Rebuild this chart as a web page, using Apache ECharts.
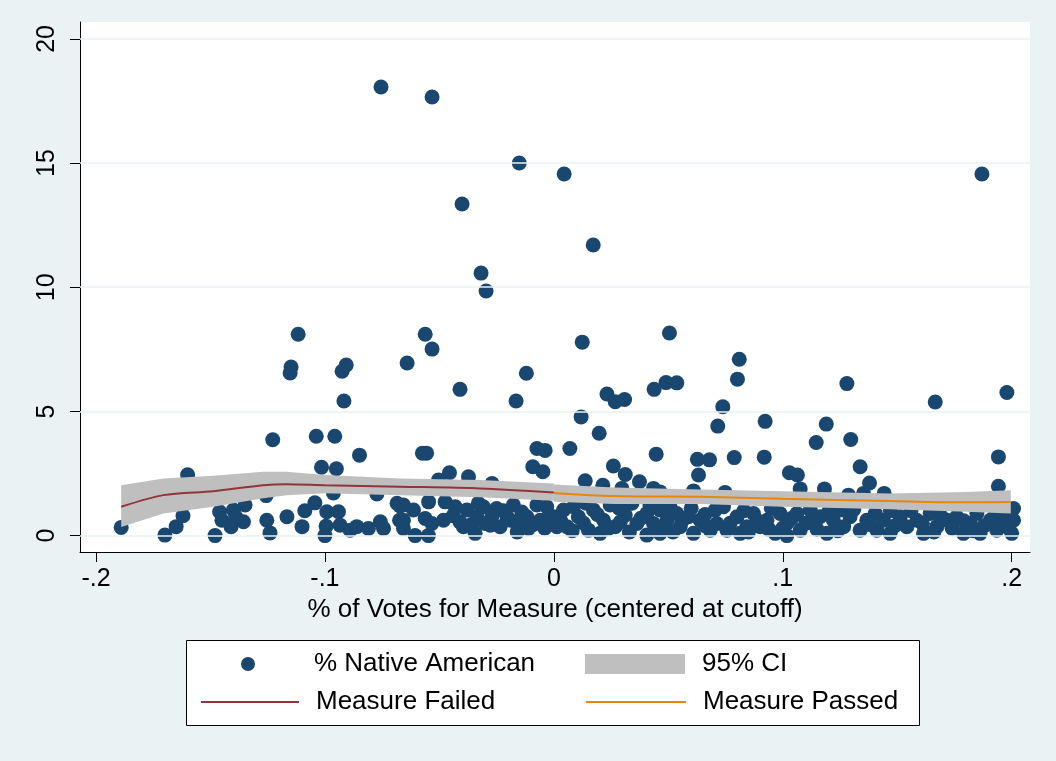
<!DOCTYPE html>
<html><head><meta charset="utf-8">
<script src="https://cdn.jsdelivr.net/npm/echarts@6/dist/echarts.min.js"></script>
<style>html,body{margin:0;padding:0;background:#EAF2F3;} #c{width:1056px;height:761px;}</style>
</head><body><div id="c"></div>
<script>
// ---- data ----
const xTickValues = [-0.2, -0.1, 0, 0.1, 0.2];
const xTickLabels = ['-.2', '-.1', '0', '.1', '.2'];
const yTickValues = [0, 5, 10, 15, 20];
const yTickLabels = ['0', '5', '10', '15', '20'];

// % Native American vs. % of votes (centered)
const nativeHigh = [
[-0.0755,18.06],[-0.0532,17.66],[-0.0151,15.0],[0.0045,14.56],[0.187,14.56],[-0.0401,13.35],[0.0172,11.70],
[-0.0318,10.57],[-0.0296,9.85],[-0.1117,8.11],[-0.0562,8.11],[0.0505,8.16],[-0.0532,7.51],[0.0124,7.79],
[0.081,7.10],[-0.0641,6.95],[-0.0907,6.87],[-0.1148,6.79],[-0.1152,6.55],[-0.0925,6.62],[-0.012,6.54],
[0.0802,6.30],[0.128,6.12],[0.049,6.16],[0.0537,6.15],[-0.041,5.89],[0.0438,5.89],[-0.0917,5.42],
[-0.0165,5.42],[0.0232,5.70],[0.0268,5.39],[0.0309,5.48],[0.1666,5.38],[0.1979,5.76],[0.0738,5.19],
[0.0119,4.78],[0.0923,4.60],[0.119,4.49],[0.0716,4.41],[0.0198,4.12],[-0.1228,3.86],[-0.1038,4.0],
[-0.0957,4.0],[-0.0849,3.24],[0.1146,3.75],[0.1297,3.87],[0.007,3.51],[-0.0074,3.51],[-0.0038,3.43],
[-0.0574,3.32],[-0.0556,3.32],[0.0447,3.28],[0.1942,3.17],[0.0919,3.16],[0.0788,3.14],[0.0627,3.07],
[0.068,3.05],[-0.1015,2.75],[-0.095,2.69],[-0.0092,2.77],[-0.0048,2.57],[0.026,2.80],[0.1338,2.77],
[-0.0456,2.53],[-0.0373,2.37],[0.1029,2.53],[0.1064,2.44],[-0.160,2.45],[0.0312,2.46],[0.0632,2.44],
[-0.0504,2.24],[0.0137,2.21],[0.0374,2.17],[0.1379,2.12],[-0.027,2.10],[0.0214,2.03],[0.1942,1.99],
[0.0297,1.90],[0.0435,1.90],[0.1076,1.88],[0.1182,1.88],[0.061,1.80],[0.0464,1.76],[0.0748,1.74],
[-0.0963,1.72],[-0.0773,1.68],[0.1353,1.70],[0.1443,1.70],[0.1287,1.63],[-0.1257,1.61],[0.0391,1.56]
];
const nativeLowFailed = [
[-0.189,0.33],[-0.1699,0.02],[-0.165,0.36],[-0.162,0.80],[-0.148,0.0],[-0.146,0.96],[-0.145,0.62],
[-0.141,0.36],[-0.140,1.03],[-0.139,0.76],[-0.1349,1.23],[-0.1356,0.56],[-0.1254,0.62],[-0.124,0.11],
[-0.1166,0.76],[-0.110,0.36],[-0.1088,1.0],[-0.1044,1.32],[-0.0992,0.96],[-0.0995,0.38],[-0.0941,0.96],
[-0.1,0.0],[-0.0934,0.42],[-0.089,0.22],[-0.0861,0.36],[-0.081,0.29],[-0.0758,0.56],[-0.0744,0.29],
[-0.0674,0.62],[-0.0685,1.30],[-0.0672,1.19],[-0.0657,1.23],[-0.0613,1.03],[-0.0547,1.36],[-0.0475,1.36],
[-0.0431,1.16],[-0.0657,0.62],[-0.0657,0.29],[-0.0606,0.0],[-0.0548,0.0],[-0.0562,0.69],[-0.0533,0.49],
[-0.0482,0.62],[-0.0395,0.36],[-0.038,1.03],[-0.0344,0.09],[-0.0336,0.76],[-0.0308,1.16],[-0.030,0.49],
[-0.025,1.09],[-0.0235,0.36],[-0.0205,0.76],[-0.0177,1.23],[-0.0155,0.36],[-0.0118,0.76],[-0.0111,0.29],
[-0.0074,1.23],[-0.006,0.62],[-0.0031,1.16],[-0.0278,0.42],[-0.019,0.62],[-0.044,0.8],[-0.041,0.55],
[-0.036,0.45],[-0.027,0.8],[-0.022,1.0],[-0.014,0.95],[-0.009,0.45],[-0.002,0.8],[-0.013,0.6],
[-0.033,1.3],[-0.016,0.15],[-0.004,0.3]
];
const nativeLowPassed = [
[0.0,0.76],[0.0013,0.36],[0.0042,1.03],[0.0057,0.36],[0.0107,0.76],[0.0151,0.22],[0.0173,1.03],
[0.0217,0.62],[0.0246,1.23],[0.0268,0.36],[0.0312,0.83],[0.0341,1.30],[0.0363,0.49],[0.0406,0.89],
[0.0406,0.02],[0.0435,0.49],[0.0464,0.09],[0.0464,1.03],[0.0494,0.62],[0.0537,0.89],[0.0552,0.36],
[0.0588,0.76],[0.061,0.09],[0.0639,0.62],[0.0683,0.22],[0.0705,1.03],[0.0712,0.49],[0.0086,1.16],
[0.0202,0.09],[0.003,0.6],[0.008,0.2],[0.013,0.5],[0.019,0.85],[0.024,0.3],[0.029,0.55],[0.033,0.15],
[0.038,0.7],[0.042,1.2],[0.048,0.35],[0.051,1.1],[0.056,0.6],[0.06,1.1],[0.066,0.85],[0.066,0.4],
[0.0141,1.3],[0.0285,1.1],[0.052,0.15],
[0.0741,1.16],[0.0756,0.22],[0.080,0.76],[0.0843,0.36],[0.0872,0.89],[0.0901,0.36],[0.0931,0.62],
[0.0967,0.09],[0.0988,0.89],[0.1018,0.49],[0.1062,0.89],[0.1076,0.22],[0.112,1.03],[0.1134,0.49],
[0.1163,0.76],[0.1193,0.09],[0.1221,0.62],[0.1251,1.03],[0.1266,0.36],[0.1294,0.76],[0.1338,0.22],
[0.1367,0.62],[0.1404,0.89],[0.1411,0.22],[0.0814,0.09],[0.1018,0.0],[0.077,0.5],[0.083,1.0],
[0.089,0.6],[0.095,1.1],[0.1,0.3],[0.104,0.7],[0.11,0.5],[0.115,0.25],[0.12,0.95],[0.124,0.2],
[0.131,1.05],[0.138,0.45],[0.085,0.15],[0.094,0.25],
[0.1440,0.62],[0.1469,0.09],[0.1513,0.76],[0.1542,0.36],[0.1586,0.62],[0.1615,0.09],[0.1644,0.89],
[0.1673,0.36],[0.1717,0.62],[0.1760,0.76],[0.1789,0.09],[0.1819,0.49],[0.1848,0.89],[0.1862,0.09],
[0.1906,0.62],[0.1935,0.22],[0.1986,0.76],[0.2000,0.09],[0.2008,0.62],[0.1979,0.36],[0.2008,1.09],
[0.149,0.4],[0.156,1.0],[0.161,0.5],[0.169,0.8],[0.174,0.3],[0.179,0.6],[0.188,0.4],[0.193,0.9],
[0.147,1.0],[0.166,0.15],[0.183,0.2],[0.196,0.5]
];

// fitted lines and 95% CI
const failX   = [-0.189, -0.1706, -0.1488, -0.127, -0.1167, -0.1, -0.0672, -0.0322, 0];
const failFit = [1.16, 1.63, 1.79, 2.03, 2.07, 2.03, 1.97, 1.90, 1.74];
const failLo  = [0.35, 0.89, 1.16, 1.50, 1.63, 1.71, 1.63, 1.54, 1.40];
const failHi  = [2.03, 2.30, 2.41, 2.57, 2.57, 2.44, 2.30, 2.24, 2.10];
const passX   = [0, 0.0262, 0.0641, 0.1, 0.1468, 0.180, 0.1996];
const passFit = [1.72, 1.59, 1.56, 1.48, 1.39, 1.34, 1.35];
const passLo  = [1.36, 1.27, 1.27, 1.16, 1.06, 0.96, 0.89];
const passHi  = [2.06, 1.94, 1.86, 1.79, 1.70, 1.76, 1.83];

// ---- chart ----
const FONT = '"Liberation Sans", Arial, Helvetica, sans-serif';
const NAVY = '#1A476F', MAROON = '#90353B', ORANGE = '#E8850C', CIGRAY = '#BFBFBF', BG = '#EAF2F3';

function bandSeries(name, xs, lo, hi) {
  return {
    name: name, type: 'custom', z: 3, silent: true,
    itemStyle: { color: CIGRAY },
    data: xs.map((x, i) => [x, lo[i], hi[i]]),
    encode: { x: 0, y: [1, 2] },
    renderItem: function (params, api) {
      if (params.dataIndex !== 0) return null;
      const top = xs.map((x, i) => api.coord([x, hi[i]]));
      const bot = xs.map((x, i) => api.coord([x, lo[i]])).reverse();
      return { type: 'polygon', shape: { points: top.concat(bot) },
               style: { fill: CIGRAY, stroke: null } };
    }
  };
}

const chart = echarts.init(document.getElementById('c'), null, { renderer: 'canvas' });
const legendBase = {
  selectedMode: false, orient: 'horizontal', padding: 0, itemGap: 0,
  textStyle: { fontFamily: FONT, fontSize: 26, color: '#000', lineHeight: 30, padding: [0, 0, 0, 12] }
};
chart.setOption({
  animation: false,
  backgroundColor: BG,
  textStyle: { fontFamily: FONT },
  grid: { left: 80, top: 22, right: 26, bottom: 209, show: true, backgroundColor: '#fff', borderWidth: 0 },
  xAxis: {
    type: 'value', min: -0.207, max: 0.208,
    name: '% of Votes for Measure (centered at cutoff)', nameLocation: 'middle', nameGap: 42,
    nameTextStyle: { fontFamily: FONT, fontSize: 26, color: '#000' },
    axisLine: { show: true, onZero: false, lineStyle: { color: '#000', width: 1 } },
    axisTick: { show: true, length: 10, customValues: xTickValues, lineStyle: { color: '#000' } },
    axisLabel: { customValues: xTickValues, fontSize: 25, color: '#000', margin: 15,
      formatter: v => { let k = 0; xTickValues.forEach((t, i) => { if (Math.abs(t - v) < Math.abs(xTickValues[k] - v)) k = i; }); return xTickLabels[k]; } },
    splitLine: { show: false }
  },
  yAxis: {
    type: 'value', min: -0.66, max: 20.68,
    axisLine: { show: true, onZero: false, lineStyle: { color: '#000', width: 1 } },
    axisTick: { show: true, length: 10, customValues: yTickValues, lineStyle: { color: '#000' } },
    axisLabel: { customValues: yTickValues, fontSize: 25, color: '#000', rotate: 90, margin: 20,
      formatter: v => { let k = 0; yTickValues.forEach((t, i) => { if (Math.abs(t - v) < Math.abs(yTickValues[k] - v)) k = i; }); return yTickLabels[k]; } },
    splitLine: { show: false }
  },
  legend: [
    Object.assign({}, legendBase, { data: [{ name: '% Native American', icon: 'circle' }], left: 241, top: 649, itemWidth: 98, itemHeight: 14 }),
    Object.assign({}, legendBase, { data: [{ name: '95% CI', icon: 'rect' }], left: 585, top: 649, itemWidth: 100, itemHeight: 20 }),
    Object.assign({}, legendBase, { data: ['Measure Failed'], left: 200, top: 687, itemWidth: 98, itemHeight: 14, itemStyle: { opacity: 0 } }),
    Object.assign({}, legendBase, { data: ['Measure Passed'], left: 585, top: 687, itemWidth: 100, itemHeight: 14, itemStyle: { opacity: 0 } })
  ],
  graphic: [{
    type: 'rect', z: 0, silent: true,
    shape: { x: 186.5, y: 640.5, width: 733, height: 85 },
    style: { fill: '#fff', stroke: '#000', lineWidth: 1 }
  }],
  series: [
    { name: 'gridlines', type: 'line', data: [], z: 1, silent: true,
      markLine: { silent: true, symbol: 'none', label: { show: false }, animation: false,
        lineStyle: { color: BG, width: 1.5, type: 'solid' },
        data: yTickValues.map(v => ({ yAxis: v })) } },
    { name: '% Native American', type: 'scatter', z: 2, symbol: 'circle', symbolSize: 15,
      itemStyle: { color: NAVY, opacity: 1 },
      data: nativeHigh.concat(nativeLowFailed, nativeLowPassed) },
    bandSeries('95% CI', failX, failLo, failHi),
    bandSeries('95% CI', passX, passLo, passHi),
    { name: 'Measure Failed', type: 'line', z: 4, symbol: 'none', smooth: 0.3,
      lineStyle: { color: MAROON, width: 2 }, itemStyle: { color: MAROON },
      data: failX.map((x, i) => [x, failFit[i]]) },
    { name: 'Measure Passed', type: 'line', z: 4, symbol: 'none', smooth: 0.3,
      lineStyle: { color: ORANGE, width: 2 }, itemStyle: { color: ORANGE },
      data: passX.map((x, i) => [x, passFit[i]]) }
  ]
});
</script></body></html>
